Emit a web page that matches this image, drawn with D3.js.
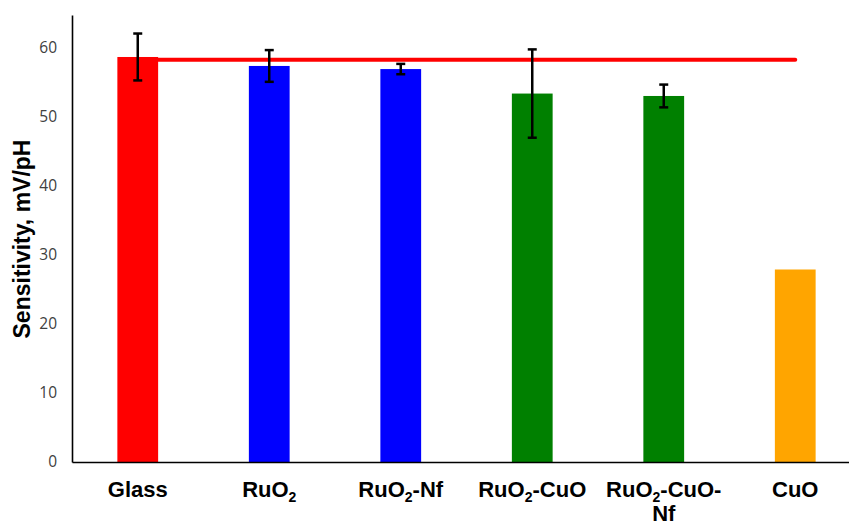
<!DOCTYPE html>
<html>
<head>
<meta charset="utf-8">
<script src="https://cdn.jsdelivr.net/npm/d3@7"></script>
<style>
  html, body { margin: 0; padding: 0; background: #fff; }
  svg { display: block; }
</style>
</head>
<body>
<svg id="chart" width="849" height="524"></svg>
<script>
// Electrode sensitivities (mV/pH) with standard deviations
const categories = ["Glass", "RuO₂", "RuO₂-Nf", "RuO₂-CuO", "RuO₂-CuO-Nf", "CuO"];
const categoryLines = [["Glass"], ["RuO₂"], ["RuO₂-Nf"], ["RuO₂-CuO"], ["RuO₂-CuO-", "Nf"], ["CuO"]];
const sensitivity = [58.7, 57.4, 56.95, 53.4, 53.05, 27.9];
const errors = [3.4, 2.3, 0.75, 6.4, 1.65, null];
const barColors = ["#ff0000", "#0000ff", "#0000ff", "#008000", "#008000", "#ffa500"];
const referenceValue = 58.3;
const yTicks = [0, 10, 20, 30, 40, 50, 60];

const svg = d3.select("#chart");

const x = d3.scaleBand()
  .domain(categories)
  .range([72, 861])
  .paddingInner(0.69)
  .paddingOuter(0.345);

const y = d3.scaleLinear()
  .domain([0, 64.8])
  .range([462, 14.9]);

// Bars
svg.append("g")
  .selectAll("rect")
  .data(categories)
  .join("rect")
  .attr("x", d => x(d))
  .attr("y", (d, i) => y(sensitivity[i]))
  .attr("width", x.bandwidth())
  .attr("height", (d, i) => y(0) - y(sensitivity[i]))
  .attr("fill", (d, i) => barColors[i]);

// Reference line at the glass electrode level
const cx = d => x(d) + x.bandwidth() / 2;
svg.append("line")
  .attr("x1", cx(categories[0]))
  .attr("x2", cx(categories[categories.length - 1]))
  .attr("y1", y(referenceValue))
  .attr("y2", y(referenceValue))
  .attr("stroke", "#ff0000")
  .attr("stroke-width", 4)
  .attr("stroke-linecap", "round");

// Error bars
const errData = categories.map((c, i) => ({ c, v: sensitivity[i], e: errors[i] })).filter(d => d.e != null);
const eg = svg.append("g").attr("stroke", "#000").attr("stroke-width", 2.5);
const capW = 4.5;
errData.forEach(d => {
  const xc = cx(d.c);
  eg.append("line").attr("x1", xc).attr("x2", xc).attr("y1", y(d.v + d.e)).attr("y2", y(d.v - d.e));
  eg.append("line").attr("x1", xc - capW).attr("x2", xc + capW).attr("y1", y(d.v + d.e)).attr("y2", y(d.v + d.e));
  eg.append("line").attr("x1", xc - capW).attr("x2", xc + capW).attr("y1", y(d.v - d.e)).attr("y2", y(d.v - d.e));
});

// Y axis
const yAxis = svg.append("g")
  .attr("transform", "translate(72,0)")
  .call(d3.axisLeft(y).tickValues(yTicks).tickSize(0).tickPadding(15));
yAxis.select(".domain").attr("stroke", "#000").attr("stroke-width", 1.6);
yAxis.selectAll("text")
  .attr("font-family", "'Open Sans', sans-serif")
  .attr("font-size", 15.5)
  .attr("fill", "#404040");

// X axis
const xAxis = svg.append("g")
  .attr("transform", "translate(0,462)")
  .call(d3.axisBottom(x).tickSize(0).tickFormat(""));
xAxis.select(".domain").attr("stroke", "#000").attr("stroke-width", 1.6);

// Category labels with subscripted oxygen count
const labels = svg.append("g")
  .attr("font-family", "'Liberation Sans', Arial, sans-serif")
  .attr("font-weight", "bold")
  .attr("font-size", 22)
  .attr("fill", "#000")
  .attr("text-anchor", "middle");

categories.forEach((c, i) => {
  const t = labels.append("text").attr("x", cx(c)).attr("y", 497);
  categoryLines[i].forEach((line, li) => {
    const parts = line.split("₂");
    parts.forEach((p, pi) => {
      const ts = t.append("tspan").text(p);
      if (pi === 0) ts.attr("x", cx(c)).attr("dy", li === 0 ? 0 : 24);
      else ts.attr("dy", -5);
      if (pi < parts.length - 1) {
        t.append("tspan").text("2").attr("font-size", 14).attr("dy", 5);
      }
    });
  });
});

// Y axis title
svg.append("text")
  .attr("transform", "translate(30,239) rotate(-90)")
  .attr("text-anchor", "middle")
  .attr("font-family", "'Liberation Sans', Arial, sans-serif")
  .attr("font-weight", "bold")
  .attr("font-size", 23)
  .attr("fill", "#000")
  .text("Sensitivity, mV/pH");
</script>
</body>
</html>
